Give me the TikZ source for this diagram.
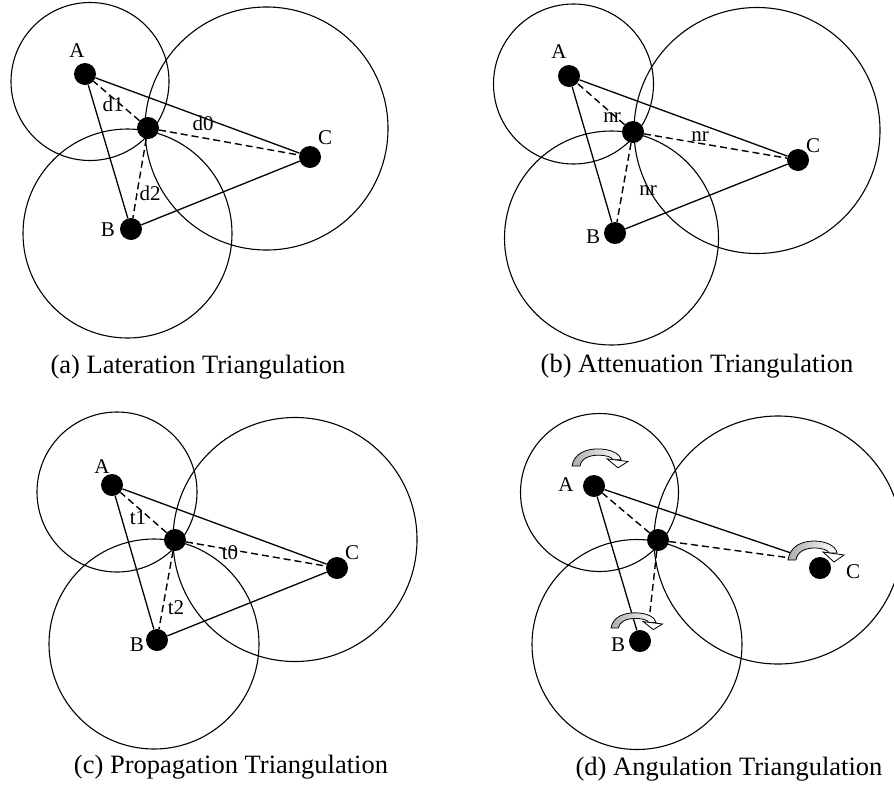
\documentclass[tikz,border=0pt]{standalone}
\usepackage{fontspec}
\setmainfont{Liberation Serif}
\usetikzlibrary{positioning}

\begin{document}
\begin{tikzpicture}[x=1pt, y=-1pt,
    station/.style={circle, fill=black, inner sep=0pt, minimum size=22pt},
    ringline/.style={line width=1.1pt},
    sideline/.style={line width=1.3pt},
    estline/.style={line width=1.4pt, dash pattern=on 7pt off 4pt},
    lbl/.style={font=\fontsize{21}{24}\selectfont, inner sep=0pt},
    captxt/.style={font=\fontsize{26.5}{30}\selectfont, inner sep=0pt, anchor=base},
    rotarrow/.pic={
        % curved band, grey fading to white
        \draw[line width=0.8pt, left color=gray!65, right color=white]
            (0,0) .. controls (2,-14) and (14,-19) .. (26,-19)
            .. controls (38,-19) and (48,-14) .. (49,-7) -- (41,-7)
            .. controls (40,-10) and (34,-12) .. (26,-12)
            .. controls (17,-12) and (9,-8) .. (8,0) -- cycle;
        % open head pointing down
        \draw[line width=0.8pt, fill=white] (35,-8) -- (56,-5) -- (46,2) -- cycle;
    }]
    \useasboundingbox (0,0) rectangle (894,788);

    % (a) Lateration: ranges d0, d1, d2
    \draw[ringline] (90,81.5) circle (79);
    \draw[ringline] (266.5,128.5) circle (121.5);
    \draw[ringline] (127.5,233.5) circle (104.5);
    \node[station] (A1) at (85,74) {};
    \node[station] (B1) at (131,229) {};
    \node[station] (C1) at (310,157) {};
    \node[station] (X1) at (148,128) {};
    \draw[sideline] (A1) -- (C1) (A1) -- (B1) (B1) -- (C1);
    \draw[estline] (X1) -- (A1) (X1) -- (B1) (X1) -- (C1);
    \node[lbl] at (77,51) {A};
    \node[lbl] at (108,230) {B};
    \node[lbl] at (325,138) {C};
    \node[lbl] at (113,104) {d1};
    \node[lbl] at (203,123) {d0};
    \node[lbl] at (150,193) {d2};
    \node[captxt] at (198,373) {(a) Lateration Triangulation};

    % (b) Attenuation
    \draw[ringline] (573.5,84) circle (80);
    \draw[ringline] (757,130.5) circle (123);
    \draw[ringline] (611.5,238) circle (107);
    \node[station] (A2) at (569,76) {};
    \node[station] (B2) at (615,233) {};
    \node[station] (C2) at (798,160) {};
    \node[station] (X2) at (633,132) {};
    \draw[sideline] (A2) -- (C2) (A2) -- (B2) (B2) -- (C2);
    \draw[estline] (X2) -- (A2) (X2) -- (B2) (X2) -- (C2);
    \node[lbl] at (559,52) {A};
    \node[lbl] at (593,237) {B};
    \node[lbl] at (813,146) {C};
    \node[lbl] at (612,118) {nr};
    \node[lbl] at (700,137) {nr};
    \node[lbl] at (648,191) {nr};
    \node[captxt] at (697,372) {(b) Attenuation Triangulation};

    % (c) Propagation: times t0, t1, t2
    \draw[ringline] (117,492) circle (80);
    \draw[ringline] (295,539.5) circle (122);
    \draw[ringline] (154,644) circle (105);
    \node[station] (A3) at (112,485) {};
    \node[station] (B3) at (157,640) {};
    \node[station] (C3) at (337,568) {};
    \node[station] (X3) at (175,540) {};
    \draw[sideline] (A3) -- (C3) (A3) -- (B3) (B3) -- (C3);
    \draw[estline] (X3) -- (A3) (X3) -- (B3) (X3) -- (C3);
    \node[lbl] at (102,467) {A};
    \node[lbl] at (137,645) {B};
    \node[lbl] at (352,553) {C};
    \node[lbl] at (138,518) {t1};
    \node[lbl] at (230,553) {t0};
    \node[lbl] at (176,608) {t2};
    \node[captxt] at (231,773) {(c) Propagation Triangulation};

    % (d) Angulation: turning arrows at the stations
    \draw[ringline] (599.5,492.5) circle (79);
    \draw[ringline] (778,540) circle (124);
    \draw[ringline] (637,644.5) circle (105);
    \node[station] (A4) at (594,486) {};
    \node[station] (B4) at (640,641) {};
    \node[station] (C4) at (820,568) {};
    \node[station] (X4) at (658,540) {};
    \coordinate (Ct4) at (791,558);
    \coordinate (Cs4) at (791,553);
    \coordinate (Bt4) at (650,612);
    \draw[sideline] (A4) -- (Cs4) (A4) -- (B4);
    \draw[estline] (X4) -- (A4) (X4) -- (Bt4) (X4) -- (Ct4);
    \pic[yscale=0.9] at (572,466) {rotarrow};
    \pic at (788,560) {rotarrow};
    \pic[xscale=0.92, yscale=0.8] at (611,628) {rotarrow};
    \node[lbl] at (566,485) {A};
    \node[lbl] at (618,645) {B};
    \node[lbl] at (853,572) {C};
    \node[captxt] at (729,775) {(d) Angulation Triangulation};
\end{tikzpicture}
\end{document}
